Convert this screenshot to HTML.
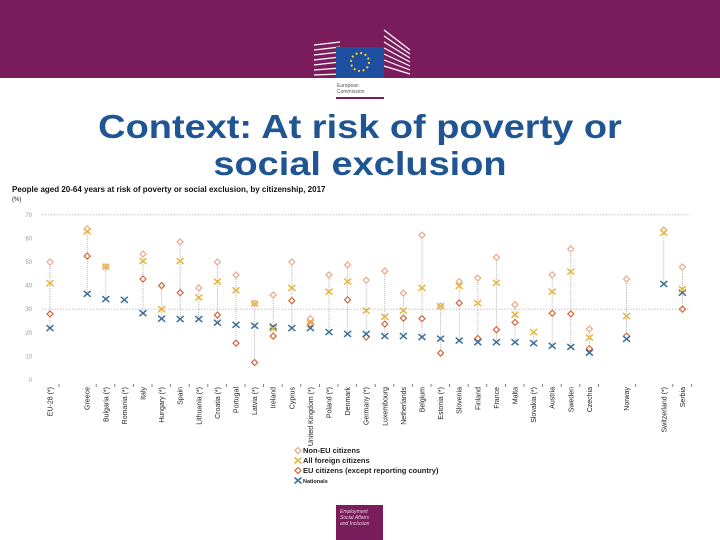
<!DOCTYPE html>
<html><head><meta charset="utf-8"><style>
body{margin:0;width:720px;height:540px;background:#fff;overflow:hidden;font-family:"Liberation Sans",sans-serif;position:relative}
.hdr{position:absolute;left:0;top:0;width:720px;height:78px;background:#7b1c5c}
.title{position:absolute;left:0;top:108px;width:720px;text-align:center;color:#1e5592;font-weight:bold;font-size:33px;line-height:37px;transform:scaleX(1.15);transform-origin:360px 0}
</style></head><body>
<div class="hdr"></div>
<svg style="position:absolute;left:0;top:0" width="720" height="110">
<g stroke="#fff" stroke-width="1.2">
<line x1="314" y1="45" x2="340" y2="42"/><line x1="314" y1="50" x2="340" y2="47"/><line x1="314" y1="55" x2="340" y2="52"/><line x1="314" y1="60" x2="340" y2="57"/><line x1="314" y1="65" x2="340" y2="62"/><line x1="314" y1="70" x2="340" y2="68"/><line x1="314" y1="75" x2="340" y2="74"/>
<line x1="384" y1="30" x2="410" y2="50"/><line x1="384" y1="36" x2="410" y2="54"/><line x1="384" y1="42" x2="410" y2="58"/><line x1="384" y1="48" x2="410" y2="62"/><line x1="384" y1="54" x2="410" y2="66"/><line x1="384" y1="60" x2="410" y2="70"/><line x1="384" y1="66" x2="410" y2="74"/>
</g>
<rect x="336" y="47" width="48" height="31" fill="#1f4fa0"/>
<circle cx="360" cy="62" r="9" fill="none" stroke="#f2d21b" stroke-width="2" stroke-dasharray="2 2.7"/>
<text x="337" y="87" font-size="5" fill="#555">European</text>
<text x="337" y="93" font-size="5" fill="#555">Commission</text>
<rect x="336" y="97" width="48" height="2" fill="#7b1c5c"/>
</svg>
<div class="title">Context: At risk of poverty or<br>social exclusion</div>
<svg id="chart" style="position:absolute;left:0;top:0" width="720" height="540"></svg>
<div style="position:absolute;left:336px;top:505px;width:47px;height:35px;background:#7b1c5c;color:#e8d0e0;font-size:5px;font-style:italic;padding:4px 0 0 4px;box-sizing:border-box;line-height:6px">Employment<br>Social Affairs<br>and Inclusion</div>
<script>
const categories=["EU-28 (*)","","Greece","Bulgaria (*)","Romania (*)","Italy","Hungary (*)","Spain","Lithuania (*)","Croatia (*)","Portugal","Latvia (*)","Ireland","Cyprus","United Kingdom (*)","Poland (*)","Denmark","Germany (*)","Luxembourg","Netherlands","Belgium","Estonia (*)","Slovenia","Finland","France","Malta","Slovakia (*)","Austria","Sweden","Czechia","","Norway","","Switzerland (*)","Serbia"];
const nonEU=[50,null,64,48,null,53.4,null,58.5,39,50,44.5,32.6,36,50,26,44.5,48.8,42.3,46.2,36.8,61.4,31.3,41.7,43.2,52,31.9,null,44.6,55.5,21.6,null,42.8,null,63.5,47.9];
const allForeign=[41,null,63,48,null,50.4,30,50.4,35,41.7,38,32.4,21.8,39,24.3,37.4,41.7,29.4,26.8,29.4,39,31.3,39.8,32.6,41.2,27.7,20.3,37.4,45.9,18,null,27.1,null,62.4,38.5];
const euCit=[28,null,52.5,null,null,42.8,40,37,null,27.5,15.6,7.4,18.6,33.6,23.7,null,34,18.2,23.7,26.2,26,11.4,32.6,17.6,21.3,24.4,null,28.3,28,13.3,null,18.6,null,null,30];
const nationals=[22,null,36.5,34.3,34,28.3,26,25.8,25.8,24.3,23.4,23,22.6,22,22,20.3,19.5,19.5,18.6,18.6,18.2,17.5,16.7,16,16,16,15.6,14.5,14,11.6,null,17.4,null,40.7,37];
const yTicks=[0,10,20,30,40,50,60,70];
const NS="http://www.w3.org/2000/svg";
const svg=document.getElementById('chart');
const X=i=>50+i*18.6;
const Y=v=>380-v*2.36;
function mk(tag,attrs,parent){const e=document.createElementNS(NS,tag);for(const k in attrs)e.setAttribute(k,attrs[k]);(parent||svg).appendChild(e);return e;}
let t=mk('text',{x:12,y:192,'font-size':8,'font-weight':'bold',fill:'#111'});t.textContent='People aged 20-64 years at risk of poverty or social exclusion, by citizenship, 2017';


t=mk('text',{x:12,y:201,'font-size':6,fill:'#111'});t.textContent='(%)';


yTicks.forEach(v=>{const l=mk('text',{x:32,y:Y(v)+2,'font-size':6,fill:'#999','text-anchor':'end'});l.textContent=v;


if(v===70||v===30){const g=mk('line',{x1:42,x2:690,y1:Y(v),y2:Y(v),stroke:'#bbb','stroke-dasharray':'1.5 1.5','stroke-width':0.8});

}});
function diamond(x,y,col,nm){const p=mk('path',{d:`M${x} ${y-3}L${x+3} ${y}L${x} ${y+3}L${x-3} ${y}Z`,fill:'#fff',stroke:col,'stroke-width':1.2});

}
function cross(x,y,col,nm){const p=mk('path',{d:`M${x-3.5} ${y-3}L${x+3.5} ${y+3}M${x+3.5} ${y-3}L${x-3.5} ${y+3}`,stroke:col,'stroke-width':1.5,fill:'none'});

}
categories.forEach((c,i)=>{
 if(!c)return;
 const x=X(i);
 const vals=[nonEU[i],allForeign[i],euCit[i],nationals[i]].filter(v=>v!=null);
 const mx=Math.max(...vals),mn=Math.min(...vals);
 const dl=mk('line',{x1:x,x2:x,y1:Y(mx),y2:Y(mn),stroke:'#aaa','stroke-dasharray':'1 1','stroke-width':0.8});
 
 
 if(nonEU[i]!=null)diamond(x,Y(nonEU[i]),'#eaa88c','point-non-eu');
 if(euCit[i]!=null)diamond(x,Y(euCit[i]),'#d9643a','point-eu-citizens');
 if(nationals[i]!=null)cross(x,Y(nationals[i]),'#3b6e9c','point-nationals');
 if(allForeign[i]!=null)cross(x,Y(allForeign[i]),'#e8b53e','point-all-foreign');
 const tk=mk('line',{x1:x+9,x2:x+9,y1:384,y2:387,stroke:'#666','stroke-width':0.8});
 
 
 const lb=mk('text',{x:0,y:0,'font-size':7,fill:'#222','text-anchor':'end',transform:`translate(${x+2.5},387) rotate(-90)`});
 lb.textContent=c;
 
 
});
const leg=[["Non-EU citizens",'#eaa88c','d'],["All foreign citizens",'#e8b53e','x'],["EU citizens (except reporting country)",'#d9643a','d'],["Nationals",'#3b6e9c','x']];
leg.forEach((l,k)=>{const y=453+k*10;
 if(l[2]==='d')diamond(298,y-2.5,l[1],'legend-marker');else cross(298,y-2.5,l[1],'legend-marker');
 const tx=mk('text',{x:303,y:y,'font-size':k===3?5.5:7.5,'font-weight':'bold',fill:'#222'});tx.textContent=l[0];
 
 });
</script>
</body></html>
